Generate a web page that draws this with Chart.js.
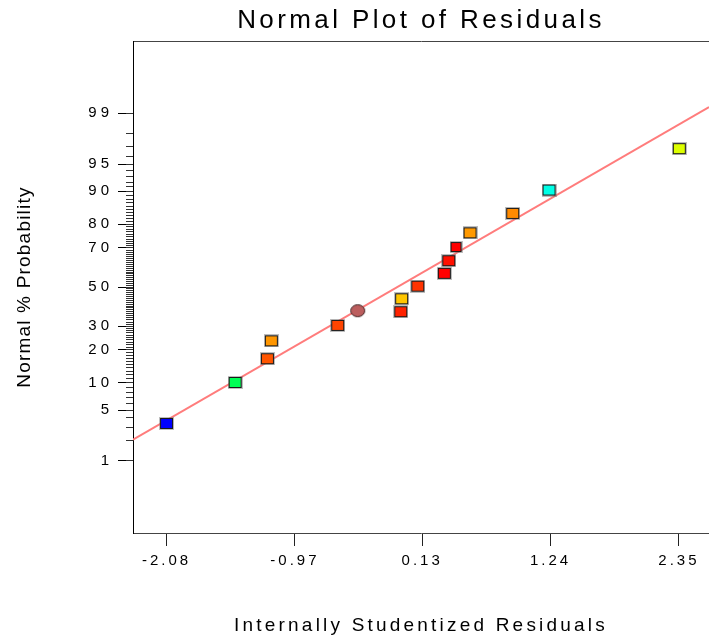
<!DOCTYPE html>
<html>
<head>
<meta charset="utf-8">
<script src="https://cdn.jsdelivr.net/npm/chart.js@4.4.1/dist/chart.umd.min.js"></script>
<style>
  html, body { margin: 0; padding: 0; background: #fff; overflow: hidden; }
  canvas { display: block; }
</style>
</head>
<body>
<canvas id="chart" width="709" height="638"></canvas>
<script>
// Internally studentized residuals and their normal probability (%)
const residuals = [-2.08, -1.487, -1.208, -1.174, -0.600, -0.427, -0.055, -0.047,
                   0.092, 0.322, 0.360, 0.423, 0.544, 0.913, 1.227, 2.353];
const probabilityPct = [3.4, 10.1, 16.9, 23.6, 30.4, 37.6, 37.1, 43.8,
                        50.5, 57.3, 63.8, 70.4, 76.6, 83.8, 90.3, 96.8];
const pointColors = ['#0000FF', '#00FF55', '#FF5500', '#FF9600', '#FF4400', '#BC5E5E', '#FF2200', '#FFC600',
                     '#FF3300', '#FF0000', '#FF1000', '#FF0000', '#FF9900', '#FF8A00', '#00FFE6', '#DDFF00'];
const markerShapes = ['square', 'square', 'square', 'square', 'square', 'circle', 'square', 'square',
                      'square', 'square', 'square', 'small', 'square', 'square', 'square', 'square'];

// Reference line, given by its residual / probability at the two plot edges
const refLineResiduals = [-2.37, 2.61];
const refLinePct = [2.06, 99.2];

// Axes
const xRange = [-2.37, 2.61];
const xTickValues = [-2.08, -0.97, 0.13, 1.24, 2.35];
const xTickLabels = ['-2.08', '-0.97', '0.13', '1.24', '2.35'];
const yRangePct = [0.05, 99.95];
const yTickPct = [1, 5, 10, 20, 30, 50, 70, 80, 90, 95, 99];
const yTickLabels = ['1', '5', '10', '20', '30', '50', '70', '80', '90', '95', '99'];
const yMinorPct = [];
for (let p = 1; p <= 99; p++) yMinorPct.push(p);

const FONT = "'Liberation Sans', Arial, Helvetica, sans-serif";

// Inverse of the standard normal CDF (Acklam's rational approximation)
function probit(p) {
  const a = [-3.969683028665376e+01, 2.209460984245205e+02, -2.759285104469687e+02,
             1.383577518672690e+02, -3.066479806614716e+01, 2.506628277459239e+00];
  const b = [-5.447609879822406e+01, 1.615858368580409e+02, -1.556989798598866e+02,
             6.680131188771972e+01, -1.328068155288572e+01];
  const c = [-7.784894002430293e-03, -3.223964580411365e-01, -2.400758277161838e+00,
             -2.549732539343734e+00, 4.374664141464968e+00, 2.938163982698783e+00];
  const d = [7.784695709041462e-03, 3.224671290700398e-01, 2.445134137142996e+00,
             3.754408661907416e+00];
  const pl = 0.02425, ph = 1 - pl;
  let q, r;
  if (p < pl) {
    q = Math.sqrt(-2 * Math.log(p));
    return (((((c[0]*q + c[1])*q + c[2])*q + c[3])*q + c[4])*q + c[5]) /
           ((((d[0]*q + d[1])*q + d[2])*q + d[3])*q + 1);
  }
  if (p > ph) {
    q = Math.sqrt(-2 * Math.log(1 - p));
    return -(((((c[0]*q + c[1])*q + c[2])*q + c[3])*q + c[4])*q + c[5]) /
            ((((d[0]*q + d[1])*q + d[2])*q + d[3])*q + 1);
  }
  q = p - 0.5; r = q * q;
  return (((((a[0]*r + a[1])*r + a[2])*r + a[3])*r + a[4])*r + a[5]) * q /
         (((((b[0]*r + b[1])*r + b[2])*r + b[3])*r + b[4])*r + 1);
}
const pctToZ = (pct) => probit(pct / 100);

// Marker bitmaps: filled shape, thin dark outline, soft grey halo
function makeMarker(shape, fill) {
  const w = shape === 'circle' ? 15 : (shape === 'small' ? 11 : 13);
  const h = shape === 'circle' ? 13 : (shape === 'small' ? 10 : 11);
  const cv = document.createElement('canvas');
  cv.width = w + 2; cv.height = h + 2;
  const g = cv.getContext('2d');
  if (shape === 'circle') {
    g.beginPath();
    g.ellipse(cv.width / 2, cv.height / 2, w / 2 - 0.5, h / 2 - 0.5, 0, 0, Math.PI * 2);
    g.fillStyle = fill; g.fill();
    g.lineWidth = 1; g.strokeStyle = '#3a2020'; g.stroke();
  } else {
    g.fillStyle = 'rgba(110,110,110,0.45)';
    g.fillRect(0, 0, cv.width, cv.height);
    g.fillStyle = fill;
    g.fillRect(1, 1, w, h);
    g.lineWidth = 1; g.strokeStyle = '#1a1a1a';
    g.strokeRect(1.5, 1.5, w - 1, h - 1);
  }
  return cv;
}
const markers = pointColors.map((c, i) => makeMarker(markerShapes[i], c));

// Letter spacing for text drawn by a given chart element
function spaceText(obj, method, spacing) {
  if (!obj || obj['_spaced_' + method]) return;
  const orig = obj[method];
  obj[method] = function (...args) {
    const ctx = this.ctx;
    const prev = ctx.letterSpacing;
    ctx.letterSpacing = spacing;
    try { return orig.apply(this, args); } finally { ctx.letterSpacing = prev; }
  };
  obj['_spaced_' + method] = true;
}
const spacingPlugin = {
  id: 'spacing',
  afterLayout(chart) {
    spaceText(chart.titleBlock, 'draw', '3.4px');
    spaceText(chart.scales.x, 'drawLabels', '3px');
    spaceText(chart.scales.x, 'drawTitle', '3.2px');
    spaceText(chart.scales.y, 'drawLabels', '4px');
    spaceText(chart.scales.y, 'drawTitle', '1.2px');
  }
};

// Horizontal axes span the full plot width: no extra side padding for labels
function noSidePadding(s) { s.paddingLeft = 0; s.paddingRight = 0; }

const yMin = pctToZ(yRangePct[0]);
const yMax = pctToZ(yRangePct[1]);

new Chart(document.getElementById('chart'), {
  type: 'scatter',
  data: {
    datasets: [
      {
        label: 'Residuals',
        data: residuals.map((x, i) => ({ x, y: pctToZ(probabilityPct[i]) })),
        pointStyle: markers,
        pointRadius: 7,
        order: 1
      },
      {
        label: 'Normal line',
        data: refLineResiduals.map((x, i) => ({ x, y: pctToZ(refLinePct[i]) })),
        showLine: true,
        borderColor: '#FF7C7C',
        borderWidth: 2,
        pointRadius: 0,
        order: 2
      }
    ]
  },
  options: {
    responsive: false,
    devicePixelRatio: 1,
    animation: false,
    events: [],
    layout: { padding: 0, autoPadding: false },
    plugins: {
      legend: { display: false },
      tooltip: { enabled: false },
      title: {
        display: true,
        text: 'Normal Plot of Residuals',
        fullSize: false,
        color: '#000',
        font: { family: FONT, size: 26, weight: 'normal' },
        padding: { top: 5, bottom: 5 }
      }
    },
    scales: {
      x: {
        type: 'linear',
        position: 'bottom',
        min: xRange[0],
        max: xRange[1],
        afterBuildTicks(s) { s.ticks = xTickValues.map(v => ({ value: v })); },
        ticks: {
          autoSkip: false, maxRotation: 0, padding: 6, color: '#000',
          font: { family: FONT, size: 15 },
          callback: (v, i) => xTickLabels[i]
        },
        grid: { drawOnChartArea: false, tickLength: 13, tickColor: '#222' },
        border: { color: '#444' },
        title: {
          display: true,
          text: 'Internally Studentized Residuals',
          color: '#000',
          font: { family: FONT, size: 19 },
          padding: { top: 0, bottom: 1 }
        },
        afterFit(s) { s.height = 105; noSidePadding(s); }
      },
      x2: {
        type: 'linear',
        position: 'top',
        min: xRange[0],
        max: xRange[1],
        ticks: { display: false },
        grid: { display: false, drawTicks: false },
        border: { display: true, color: '#444' },
        afterFit(s) { s.height = 0; noSidePadding(s); }
      },
      y: {
        type: 'linear',
        position: 'left',
        weight: 1,
        min: yMin,
        max: yMax,
        afterBuildTicks(s) { s.ticks = yTickPct.map(p => ({ value: pctToZ(p) })); },
        ticks: {
          autoSkip: false, padding: 5, color: '#000',
          font: { family: FONT, size: 15 },
          callback: (v, i) => yTickLabels[i]
        },
        grid: { drawOnChartArea: false, tickLength: 15, tickColor: '#000' },
        border: { color: '#000' },
        title: {
          display: true,
          text: 'Normal % Probability',
          color: '#000',
          font: { family: FONT, size: 19 },
          padding: { top: 13, bottom: 0 }
        },
        afterFit(s) { s.width = 133; }
      },
      yMinor: {
        type: 'linear',
        position: 'left',
        weight: 0,
        min: yMin,
        max: yMax,
        afterBuildTicks(s) { s.ticks = yMinorPct.map(p => ({ value: pctToZ(p) })); },
        ticks: { display: false },
        grid: { drawOnChartArea: false, tickLength: 7, tickColor: '#333' },
        border: { display: false },
        afterFit(s) { s.width = 0; }
      }
    }
  },
  plugins: [spacingPlugin]
});
</script>
</body>
</html>
